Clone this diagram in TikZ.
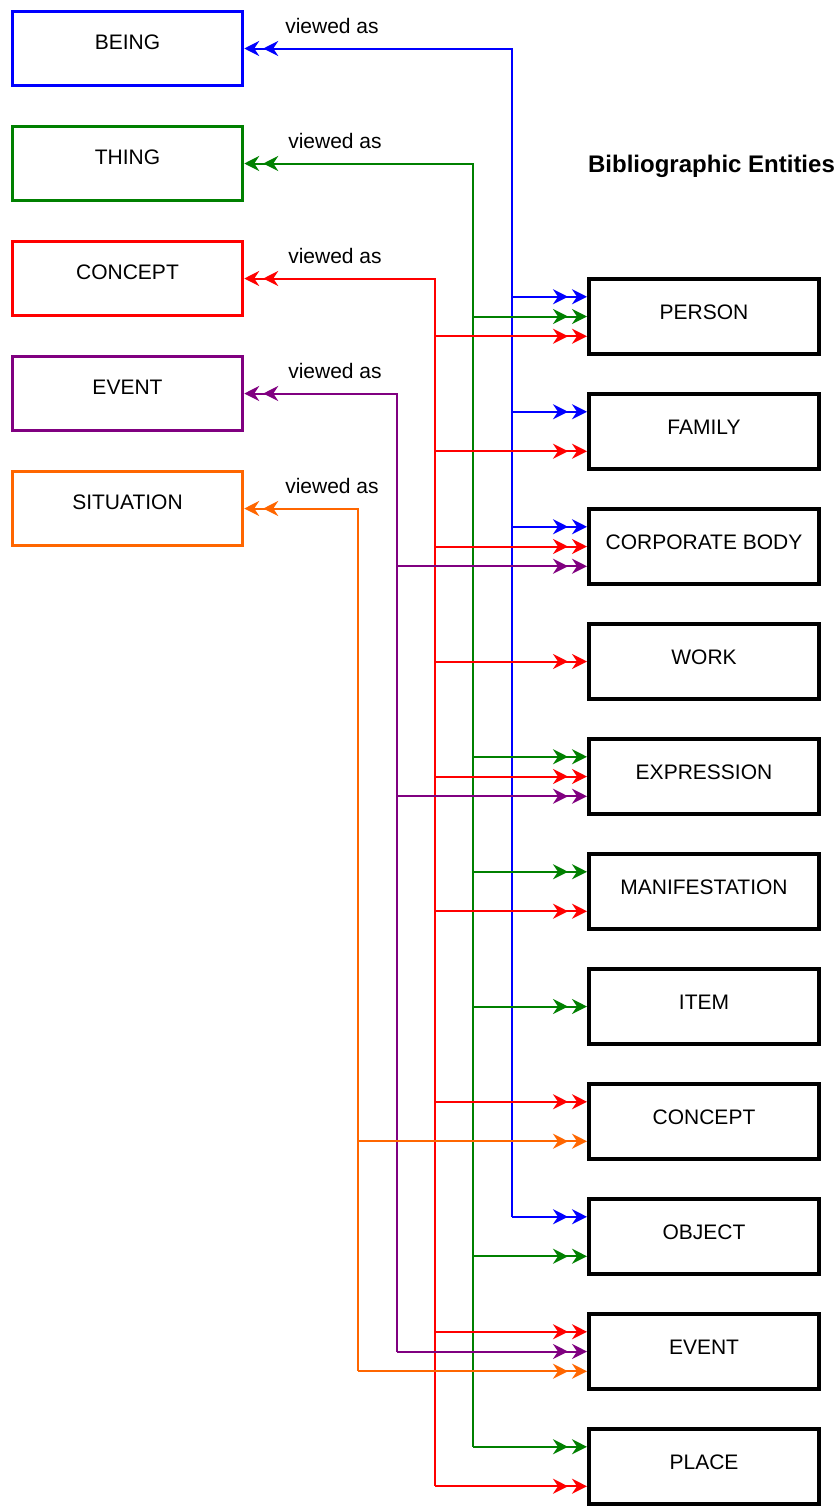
\documentclass[tikz,border=0pt]{standalone}
\usepackage{fontspec}
\setmainfont{Liberation Sans}
\usetikzlibrary{arrows.meta,calc}
\definecolor{cblue}{HTML}{0000FF}
\definecolor{cgreen}{HTML}{008000}
\definecolor{cred}{HTML}{FF0000}
\definecolor{cpurple}{HTML}{800080}
\definecolor{corange}{HTML}{FF6600}
\begin{document}
\begin{tikzpicture}[x=1pt,y=-1pt,
  dbl/.style={line width=2pt,-{Stealth[length=15pt,width=15pt,inset=5pt,sep=4pt] Stealth[length=15pt,width=15pt,inset=5pt]}},
  rdbl/.style={line width=2pt,{Stealth[length=15pt,width=15pt,inset=5pt] Stealth[length=15pt,width=15pt,inset=5pt,sep=4pt]}-},
  lbox/.style={draw,line width=3.5pt,minimum width=230pt,minimum height=74pt,inner sep=0pt,
    font=\fontsize{21}{25}\selectfont,text height=15pt,text depth=13pt},
  rbox/.style={draw=black,line width=4pt,minimum width=230pt,minimum height=75pt,inner sep=0pt,
    font=\fontsize{21}{25}\selectfont,text height=15pt,text depth=9pt},
  vlabel/.style={font=\fontsize{21}{25}\selectfont,inner sep=0pt,anchor=base}
]
\useasboundingbox (0,0) rectangle (839,1507);

% left boxes
\node[lbox,draw=cblue]   (being)     at (127.5,48.5)  {BEING};
\node[lbox,draw=cgreen]  (thing)     at (127.5,163.5) {THING};
\node[lbox,draw=cred]    (lconcept)  at (127.5,278.5) {CONCEPT};
\node[lbox,draw=cpurple] (levent)    at (127.5,393.5) {EVENT};
\node[lbox,draw=corange] (situation) at (127.5,508.5) {SITUATION};

% labels
\node[vlabel] (v1) at (332,33)  {viewed as};
\node[vlabel] (v2) at (335,148) {viewed as};
\node[vlabel] (v3) at (335,263) {viewed as};
\node[vlabel] (v4) at (335,378) {viewed as};
\node[vlabel] (v5) at (332,493) {viewed as};

\node[font=\bfseries\fontsize{24}{28}\selectfont,inner sep=0pt,anchor=base] (title) at (711.5,172) {Bibliographic Entities};

% right boxes
\node[rbox] (person)     at (704,316.5)  {PERSON};
\node[rbox] (family)     at (704,431.5)  {FAMILY};
\node[rbox] (corp)       at (704,546.5)  {CORPORATE BODY};
\node[rbox] (work)       at (704,661.5)  {WORK};
\node[rbox] (expression) at (704,776.5)  {EXPRESSION};
\node[rbox] (manif)      at (704,891.5)  {MANIFESTATION};
\node[rbox] (item)       at (704,1006.5) {ITEM};
\node[rbox] (rconcept)   at (704,1121.5) {CONCEPT};
\node[rbox] (object)     at (704,1236.5) {OBJECT};
\node[rbox] (revent)     at (704,1351.5) {EVENT};
\node[rbox] (place)      at (704,1466.5) {PLACE};

\foreach \n in {person,family,corp,work,expression,manif,item,rconcept,object,revent,place}{
  \coordinate (\n-a) at ($(\n.north west)!0.25!(\n.south west)$);
  \coordinate (\n-b) at ($(\n.north west)!0.5!(\n.south west)$);
  \coordinate (\n-c) at ($(\n.north west)!0.75!(\n.south west)$);
}

% trunk x positions
\coordinate (xb) at (512,0);
\coordinate (xg) at (473,0);
\coordinate (xr) at (435,0);
\coordinate (xp) at (397,0);
\coordinate (xo) at (358,0);

% trunks
\draw[rdbl,cblue]   (being.east)     -| (xb |- object-a);
\draw[rdbl,cgreen]  (thing.east)     -| (xg |- place-a);
\draw[rdbl,cred]    (lconcept.east)  -| (xr |- place-c);
\draw[rdbl,cpurple] (levent.east)    -| (xp |- revent-b);
\draw[rdbl,corange] (situation.east) -| (xo |- revent-c);

% branches
\foreach \t in {person-a,family-a,corp-a,object-a}{
  \draw[dbl,cblue] (xb |- \t) -- (\t);}
\foreach \t in {person-b,expression-a,manif-a,item-b,object-c,place-a}{
  \draw[dbl,cgreen] (xg |- \t) -- (\t);}
\foreach \t in {person-c,family-c,corp-b,work-b,expression-b,manif-c,rconcept-a,revent-a,place-c}{
  \draw[dbl,cred] (xr |- \t) -- (\t);}
\foreach \t in {corp-c,expression-c,revent-b}{
  \draw[dbl,cpurple] (xp |- \t) -- (\t);}
\foreach \t in {rconcept-c,revent-c}{
  \draw[dbl,corange] (xo |- \t) -- (\t);}
\end{tikzpicture}
\end{document}
